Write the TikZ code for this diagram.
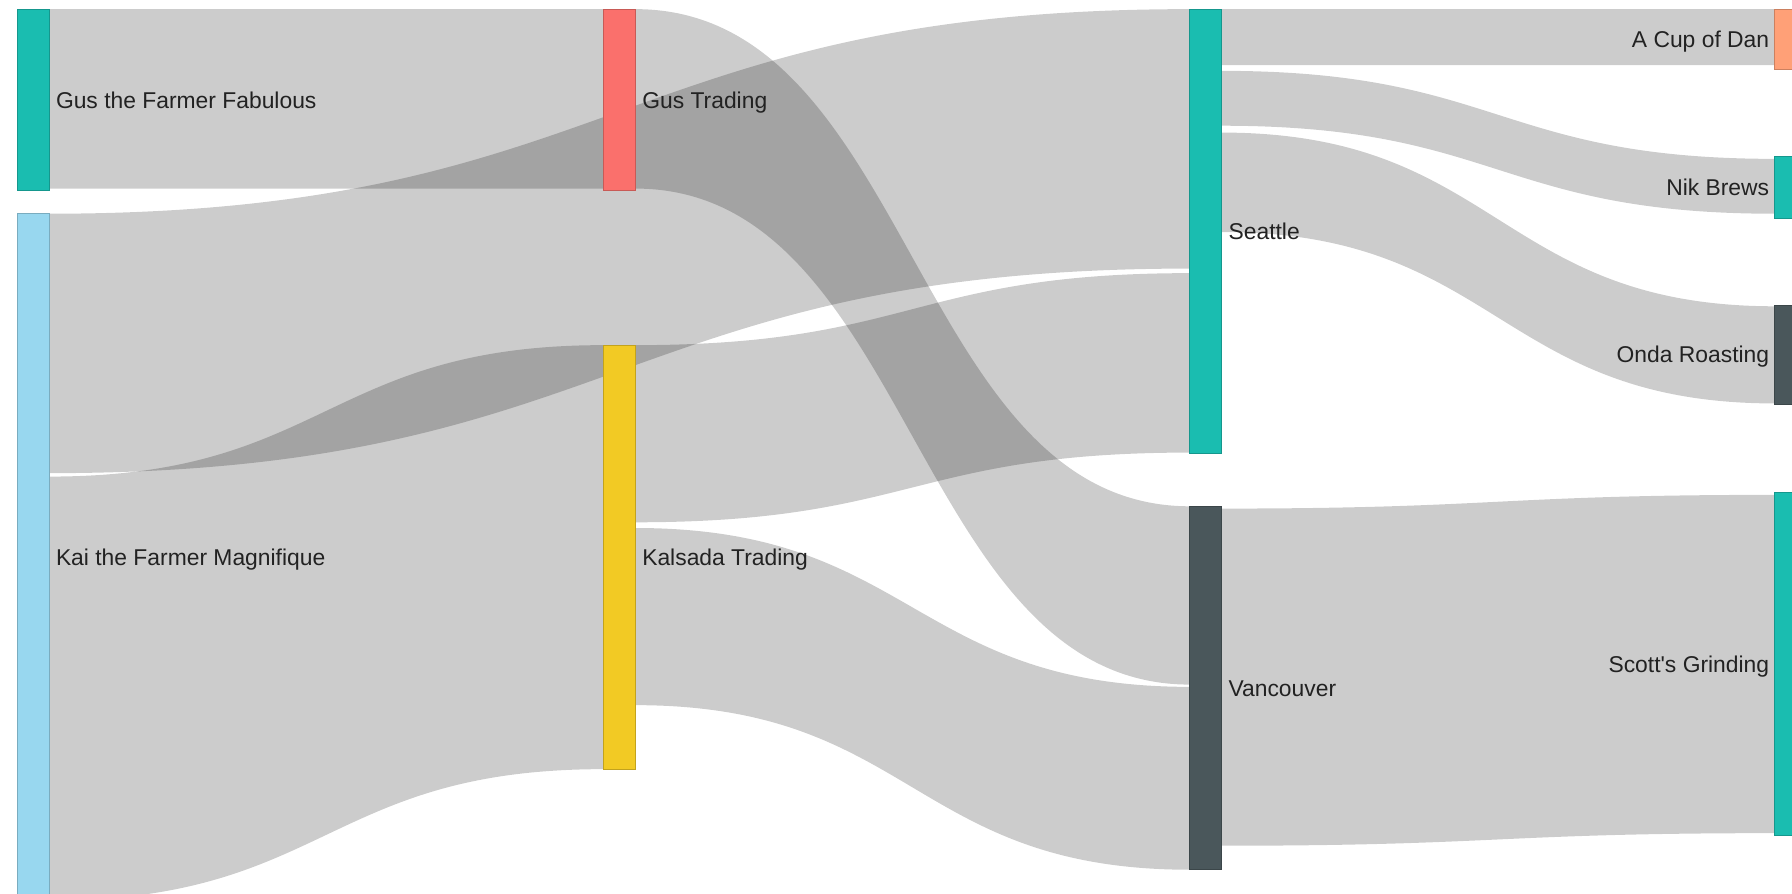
\documentclass[tikz,border=0pt]{standalone}
\usepackage{fontspec}
\setmainfont{Liberation Sans}[Ligatures=TeXOff]
\usetikzlibrary{calc}
\pgfdeclarelayer{back}
\pgfdeclarelayer{bands}
\pgfsetlayers{back,bands,main}
\definecolor{cteal}{HTML}{1ABDB0}
\definecolor{cblue}{HTML}{98D7EF}
\definecolor{csalmon}{HTML}{FA706C}
\definecolor{cyellow}{HTML}{F2CA24}
\definecolor{cdark}{HTML}{4A575B}
\definecolor{corange}{HTML}{FFA077}
\definecolor{textc}{HTML}{222222}
\tikzset{
  nodebox/.style={rectangle, inner sep=0pt, outer sep=0pt, anchor=north west, minimum width=14pt, line width=0.5pt},
  linkfill/.style={fill=black, fill opacity=0.2, draw=none},
  lbl/.style={font=\fontsize{10pt}{12pt}\selectfont, text=textc, inner sep=0pt, outer sep=0pt},
}
\newcommand\sknode[5]{\node[nodebox, fill=#5, draw=#5!80!black, minimum height=#4*0.5pt] (#1) at (#2,#3) {};}
\newcommand\sklink[6]{%
  \coordinate (la) at ($(#1.north east)+(0,#2)$);
  \coordinate (lb) at ($(#1.north east)+(0,#2+#3)$);
  \coordinate (lc) at ($(#4.north west)+(0,#5)$);
  \coordinate (ld) at ($(#4.north west)+(0,#5+#6)$);
  \coordinate (lm) at ($(la)!0.5!(lc)$);
  \begin{pgfonlayer}{bands}
  \fill[linkfill] (la) .. controls (lm|-la) and (lm|-lc) .. (lc) -- (ld) .. controls (lm|-ld) and (lm|-lb) .. (lb) -- cycle;
  \end{pgfonlayer}}
\begin{document}
\begin{tikzpicture}[x=0.5pt, y=-0.5pt]
\useasboundingbox (0,0) rectangle (1568,782);
\begin{pgfonlayer}{back}
\fill[white] (0,0) rectangle (1568,782);
\end{pgfonlayer}
\clip (0,0) rectangle (1568,782);
% nodes
\sknode{gusf}{15}{8}{159}{cteal}
\sknode{kai}{15}{187}{602}{cblue}
\sknode{gust}{528}{8}{159}{csalmon}
\sknode{kal}{528}{302}{371}{cyellow}
\sknode{sea}{1041}{8}{389}{cteal}
\sknode{van}{1041}{443}{318}{cdark}
\sknode{cup}{1553}{8}{53}{corange}
\sknode{nik}{1553}{137}{54}{cteal}
\sknode{onda}{1553}{267}{87}{cdark}
\sknode{scott}{1553}{431}{300}{cteal}
% links
\sklink{gusf}{0}{157}{gust}{0}{157}
\sklink{kai}{0}{227}{sea}{0}{227}
\sklink{kai}{230}{371}{kal}{0}{371}
\sklink{gust}{0}{157}{van}{0}{156}
\sklink{kal}{0}{155}{sea}{231}{157}
\sklink{kal}{160}{155}{van}{158}{160}
\sklink{sea}{0}{49}{cup}{0}{49}
\sklink{sea}{54}{48}{nik}{2}{48}
\sklink{sea}{108}{87}{onda}{1}{85}
\sklink{van}{2}{295}{scott}{2}{296}
% labels
\node[lbl, anchor=base west] (tgusf) at ($(gusf.east)+(3pt,-3.5pt)$) {Gus the Farmer Fabulous};
\node[lbl, anchor=base west] (tkai) at ($(kai.east)+(3pt,-3.5pt)$) {Kai the Farmer Magnifique};
\node[lbl, anchor=base west] (tgust) at ($(gust.east)+(3pt,-3.5pt)$) {Gus Trading};
\node[lbl, anchor=base west] (tkal) at ($(kal.east)+(3pt,-3.5pt)$) {Kalsada Trading};
\node[lbl, anchor=base west] (tsea) at ($(sea.east)+(3pt,-3.5pt)$) {Seattle};
\node[lbl, anchor=base west] (tvan) at ($(van.east)+(3pt,-3.5pt)$) {Vancouver};
\node[lbl, anchor=base east] (tcup) at ($(cup.west)+(-2.5pt,-3.5pt)$) {A Cup of Dan};
\node[lbl, anchor=base east] (tnik) at ($(nik.west)+(-2.5pt,-3.5pt)$) {Nik Brews};
\node[lbl, anchor=base east] (tonda) at ($(onda.west)+(-2.5pt,-3.5pt)$) {Onda Roasting};
\node[lbl, anchor=base east] (tscott) at ($(scott.west)+(-2.5pt,-3.5pt)$) {Scott's Grinding};
\end{tikzpicture}
\end{document}
